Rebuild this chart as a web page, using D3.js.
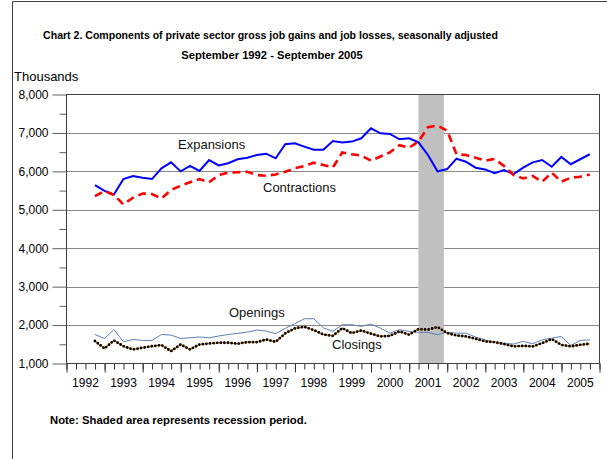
<!DOCTYPE html>
<html>
<head>
<meta charset="utf-8">
<script src="https://cdn.jsdelivr.net/npm/d3@7"></script>
<style>
  body { margin: 0; background: #fff; }
  text { font-family: "Liberation Sans", Arial, sans-serif; fill: #000; }
</style>
</head>
<body>
<svg width="607" height="459"></svg>
<script>
// quarterly periods, September 1992 - September 2005
const quarters = [
  "1992Q3","1992Q4",
  "1993Q1","1993Q2","1993Q3","1993Q4",
  "1994Q1","1994Q2","1994Q3","1994Q4",
  "1995Q1","1995Q2","1995Q3","1995Q4",
  "1996Q1","1996Q2","1996Q3","1996Q4",
  "1997Q1","1997Q2","1997Q3","1997Q4",
  "1998Q1","1998Q2","1998Q3","1998Q4",
  "1999Q1","1999Q2","1999Q3","1999Q4",
  "2000Q1","2000Q2","2000Q3","2000Q4",
  "2001Q1","2001Q2","2001Q3","2001Q4",
  "2002Q1","2002Q2","2002Q3","2002Q4",
  "2003Q1","2003Q2","2003Q3","2003Q4",
  "2004Q1","2004Q2","2004Q3","2004Q4",
  "2005Q1","2005Q2","2005Q3"
];

// values in thousands
const expansions = [
  5640, 5490, 5400, 5800, 5880, 5835, 5800, 6080, 6235, 6000,
  6140, 6010, 6295, 6155, 6210, 6315, 6355, 6425, 6460, 6340,
  6705, 6730, 6645, 6565, 6565, 6790, 6750, 6775, 6860, 7120,
  6990, 6975, 6835, 6860, 6755, 6425, 6000, 6060, 6330, 6250,
  6095, 6050, 5950, 6035, 5930, 6095, 6235, 6295, 6120, 6375,
  6185, 6315, 6445
];
const contractions = [
  5355, 5490, 5385, 5140, 5315, 5425, 5410, 5295, 5515, 5625,
  5715, 5800, 5715, 5905, 5965, 5975, 5990, 5905, 5885, 5920,
  5990, 6080, 6140, 6225, 6165, 6105, 6490, 6445, 6410, 6280,
  6385, 6495, 6680, 6615, 6775, 7150, 7190, 7060, 6445, 6425,
  6355, 6280, 6320, 6140, 5905, 5815, 5880, 5730, 5965, 5730,
  5835, 5860, 5920
];
const openings = [
  1755, 1650, 1885, 1565, 1625, 1600, 1600, 1755, 1740, 1650,
  1670, 1690, 1670, 1715, 1755, 1785, 1815, 1870, 1845, 1775,
  1915, 2035, 2165, 2165, 1930, 1835, 2010, 2010, 1965, 2025,
  1920, 1790, 1880, 1835, 1810, 1810, 1750, 1815, 1790, 1790,
  1690, 1615, 1555, 1530, 1505, 1575, 1515, 1615, 1660, 1705,
  1470, 1600, 1615
];
const closings = [
  1585, 1390, 1600, 1450, 1365, 1410, 1450, 1480, 1320, 1495,
  1365, 1495, 1520, 1540, 1540, 1515, 1555, 1555, 1625, 1565,
  1785, 1915, 1955, 1870, 1755, 1720, 1920, 1790, 1860, 1775,
  1705, 1720, 1835, 1750, 1895, 1880, 1950, 1790, 1730, 1705,
  1645, 1575, 1555, 1505, 1445, 1460, 1445, 1530, 1635, 1485,
  1445, 1485, 1515
];

const recession = ["2001-03", "2001-11"];
const yTicks = [1000, 2000, 3000, 4000, 5000, 6000, 7000, 8000];
const yearLabels = ["1992","1993","1994","1995","1996","1997","1998",
                    "1999","2000","2001","2002","2003","2004","2005"];

const svg = d3.select("svg");

// quarter -> last day of the quarter's last month
const qDate = function(q) {
  return new Date(+q.slice(0, 4), 3 * +q.slice(5), 0);
};
const monthEnd = function(s) {
  return new Date(+s.slice(0, 4), +s.slice(5), 0);
};

const plotLeft = 66.5, plotRight = 599.5, plotTop = 94.5, plotBottom = 363.5;

const x = d3.scaleTime()
  .domain([new Date(1992, 0, 1), new Date(2006, 0, 1)])
  .range([plotLeft, plotRight]);
const y = d3.scaleLinear()
  .domain([1000, 8000])
  .range([plotBottom, plotTop]);

// outer border (top and left only)
svg.append("path")
  .attr("d", "M12.5,459V1.5H607")
  .attr("fill", "none")
  .attr("stroke", "#404040");

// titles
svg.append("text")
  .attr("x", 270.5).attr("y", 39)
  .attr("text-anchor", "middle")
  .style("font-size", "10.55px").style("font-weight", "bold")
  .text("Chart 2. Components of private sector gross job gains and job losses, seasonally adjusted");
svg.append("text")
  .attr("x", 272).attr("y", 59)
  .attr("text-anchor", "middle")
  .style("font-size", "11.2px").style("font-weight", "bold")
  .text("September 1992 - September 2005");
svg.append("text")
  .attr("x", 14).attr("y", 81)
  .style("font-size", "13px")
  .text("Thousands");

// gridlines
svg.append("g")
  .selectAll("line")
  .data(yTicks.slice(1, -1))
  .enter().append("line")
    .attr("x1", plotLeft).attr("x2", plotRight)
    .attr("y1", function(d) { return Math.round(y(d)) + 0.5; })
    .attr("y2", function(d) { return Math.round(y(d)) + 0.5; })
    .attr("stroke", "#8a8a8a")
    .attr("stroke-width", 1.2);

// recession band
svg.append("rect")
  .attr("x", x(monthEnd(recession[0])))
  .attr("y", plotTop)
  .attr("width", x(monthEnd(recession[1])) - x(monthEnd(recession[0])))
  .attr("height", plotBottom - plotTop)
  .attr("fill", "#c0c0c0");

// y axis: major and minor ticks
const yAxis = svg.append("g")
  .attr("transform", "translate(" + plotLeft + ",0)")
  .call(d3.axisLeft(y).tickValues(yTicks).tickSize(14).tickPadding(4)
    .tickFormat(d3.format(",")));
yAxis.select(".domain").remove();
yAxis.selectAll("line").attr("stroke", "#606060");
yAxis.selectAll("text")
  .style("font-size", "12px")
  .style("font-family", "\"Liberation Sans\", Arial, sans-serif");

const yMinor = svg.append("g")
  .attr("transform", "translate(" + plotLeft + ",0)")
  .call(d3.axisLeft(y).tickValues(d3.range(1500, 8000, 1000)).tickSize(7).tickFormat(""));
yMinor.select(".domain").remove();
yMinor.selectAll("line").attr("stroke", "#606060");

// x axis: quarterly ticks, longer at each year
const xMinor = svg.append("g")
  .attr("transform", "translate(0," + plotBottom + ")")
  .call(d3.axisBottom(x).ticks(d3.timeMonth.every(3)).tickSize(6).tickFormat(""));
xMinor.select(".domain").remove();
xMinor.selectAll("line").attr("stroke", "#303030");

const xMajor = svg.append("g")
  .attr("transform", "translate(0," + plotBottom + ")")
  .call(d3.axisBottom(x).ticks(d3.timeYear.every(1)).tickSize(9).tickFormat(""));
xMajor.select(".domain").remove();
xMajor.selectAll("line").attr("stroke", "#303030");

svg.append("g")
  .selectAll("text")
  .data(yearLabels)
  .enter().append("text")
    .attr("x", function(d) { return x(new Date(+d, 6, 1)); })
    .attr("y", 387)
    .attr("text-anchor", "middle")
    .style("font-size", "12px")
    .text(function(d) { return d; });

// plot frame
svg.append("rect")
  .attr("x", plotLeft).attr("y", plotTop)
  .attr("width", plotRight - plotLeft).attr("height", plotBottom - plotTop)
  .attr("fill", "none")
  .attr("stroke", "#404040");

// series
const line = function(values) {
  return d3.line()
    .x(function(d, i) { return x(qDate(quarters[i])); })
    .y(function(d) { return y(d); })(values);
};

svg.append("path")
  .attr("d", line(openings))
  .attr("fill", "none")
  .attr("stroke", "#5d7fb5")
  .attr("stroke-width", 1);

svg.append("path")
  .attr("d", line(closings))
  .attr("fill", "none")
  .attr("stroke", "#f0a020")
  .attr("stroke-width", 1.6);
svg.append("path")
  .attr("d", line(closings))
  .attr("fill", "none")
  .attr("stroke", "#000")
  .attr("stroke-width", 2.8)
  .attr("stroke-linecap", "round")
  .attr("stroke-dasharray", "0,3.6");

svg.append("path")
  .attr("d", line(expansions))
  .attr("fill", "none")
  .attr("stroke", "#0000ff")
  .attr("stroke-width", 2);

svg.append("path")
  .attr("d", line(contractions))
  .attr("fill", "none")
  .attr("stroke", "#ff0000")
  .attr("stroke-width", 2.6)
  .attr("stroke-dasharray", "8,5");

// series labels
const labels = [
  {text: "Expansions", x: 178, y: 149},
  {text: "Contractions", x: 263, y: 192},
  {text: "Openings", x: 229, y: 317},
  {text: "Closings", x: 332, y: 348.5}
];
svg.append("g")
  .selectAll("text")
  .data(labels)
  .enter().append("text")
    .attr("x", function(d) { return d.x; })
    .attr("y", function(d) { return d.y; })
    .style("font-size", "13px")
    .style("fill", "#111")
    .text(function(d) { return d.text; });

// note
svg.append("text")
  .attr("x", 50).attr("y", 424)
  .style("font-size", "11.3px").style("font-weight", "bold")
  .text("Note: Shaded area represents recession period.");
</script>
</body>
</html>
